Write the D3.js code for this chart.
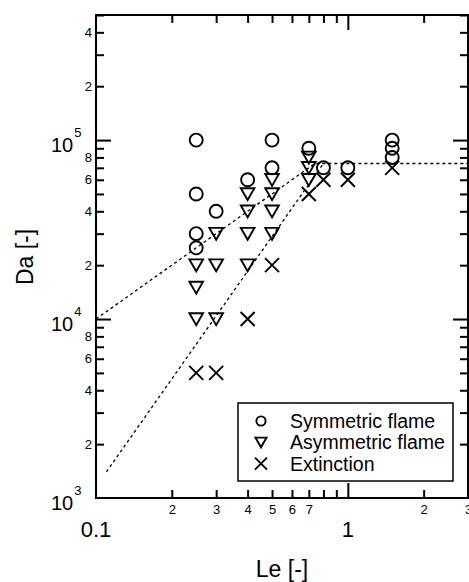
<!DOCTYPE html>
<html>
<head>
<meta charset="utf-8">
<script src="https://cdn.jsdelivr.net/npm/d3@7"></script>
<style>
body { margin: 0; background: #fff; }
text { font-family: "Liberation Sans", Arial, sans-serif; fill: #000; }
</style>
</head>
<body>
<div id="container"></div>
<script>
// Symmetric flame (circles)
var symLe = [0.25, 0.25, 0.25, 0.25, 0.3, 0.4, 0.5, 0.5, 0.7, 0.8, 1.0, 1.5, 1.5, 1.5];
var symDa = [1e5, 5e4, 3e4, 2.5e4, 4e4, 6e4, 1e5, 7e4, 9e4, 7e4, 7e4, 1e5, 9e4, 8e4];
// Asymmetric flame (triangles)
var asymLe = [0.25, 0.25, 0.25, 0.3, 0.3, 0.3, 0.4, 0.4, 0.4, 0.4, 0.5, 0.5, 0.5, 0.5, 0.7, 0.7, 0.7];
var asymDa = [2e4, 1.5e4, 1e4, 3e4, 2e4, 1e4, 5e4, 4e4, 3e4, 2e4, 6e4, 5e4, 4e4, 3e4, 8e4, 7e4, 6e4];
// Extinction (crosses)
var extLe = [0.25, 0.3, 0.4, 0.5, 0.7, 0.8, 1.0, 1.5];
var extDa = [5e3, 5e3, 1e4, 2e4, 5e4, 6e4, 6e4, 7e4];
// dashed boundary lines
var line1Le = [0.1, 0.74, 3];
var line1Da = [1e4, 7.4e4, 7.4e4];
var line2Le = [0.11, 0.8];
var line2Da = [1.4e3, 7.4e4];

var legendNames = ["Symmetric flame", "Asymmetric flame", "Extinction"];
var xTickLabels = [0.2, 0.3, 0.4, 0.5, 0.6, 0.7, 2, 3];
var xMajorLabels = [0.1, 1];
var yMajorExp = [3, 4, 5];
var yMinorLabels = [2, 4, 6, 8];

var W = 469, H = 582;
var pl = 96, pt = 15, pr = 468, pb = 498; // plot frame edges

var x = d3.scaleLog().domain([0.1, 3]).range([pl, pr]);
var y = d3.scaleLog().domain([1e3, 5e5]).range([pb, pt]);

var svg = d3.select("div#container").append("svg")
	.attr("width", W)
	.attr("height", H);

// tick values
var xMinor = [], yMinor = [];
[0.1, 1].forEach(function (d) {
	for (var k = 2; k <= 9; k++) { if (d * k <= 3.0001) xMinor.push(d * k); }
});
[1e3, 1e4, 1e5].forEach(function (d) {
	for (var k = 2; k <= 9; k++) { if (d * k <= 5e5) yMinor.push(d * k); }
});

function mant(v) { return Math.round(v / Math.pow(10, Math.floor(Math.log10(v) + 1e-9))); }

function styleAxis(g) {
	g.select(".domain").remove();
	g.attr("font-family", "Liberation Sans, Arial, sans-serif");
	g.selectAll("line").attr("stroke", "#000").attr("stroke-width", 2);
	g.selectAll("text").attr("fill", "#000");
}

// bottom minor ticks with small labels
svg.append("g").attr("transform", "translate(0," + pb + ")")
	.call(d3.axisBottom(x).tickValues(xMinor).tickSizeInner(-8).tickSizeOuter(0).tickPadding(7)
		.tickFormat(function (d) {
			return xTickLabels.some(function (t) { return Math.abs(t - d) < 1e-6; }) ? mant(d) : "";
		}))
	.call(styleAxis)
	.attr("font-size", 13);
svg.append("g").attr("transform", "translate(0," + pb + ")")
	.call(d3.axisBottom(x).tickValues([1]).tickSizeInner(-15).tickSizeOuter(0).tickFormat(""))
	.call(styleAxis);
// top ticks
svg.append("g").attr("transform", "translate(0," + pt + ")")
	.call(d3.axisTop(x).tickValues(xMinor).tickSizeInner(-8).tickSizeOuter(0).tickFormat(""))
	.call(styleAxis);
svg.append("g").attr("transform", "translate(0," + pt + ")")
	.call(d3.axisTop(x).tickValues([1]).tickSizeInner(-15).tickSizeOuter(0).tickFormat(""))
	.call(styleAxis);

// left ticks
svg.append("g").attr("transform", "translate(" + pl + ",0)")
	.call(d3.axisLeft(y).tickValues(yMinor).tickSizeInner(-8).tickSizeOuter(0).tickPadding(4)
		.tickFormat(function (d) { return yMinorLabels.indexOf(mant(d)) >= 0 ? mant(d) : ""; }))
	.call(styleAxis)
	.attr("font-size", 13);
svg.append("g").attr("transform", "translate(" + pl + ",0)")
	.call(d3.axisLeft(y).tickValues([1e4, 1e5]).tickSizeInner(-15).tickSizeOuter(0).tickFormat(""))
	.call(styleAxis);
// right ticks
svg.append("g").attr("transform", "translate(" + pr + ",0)")
	.call(d3.axisRight(y).tickValues(yMinor).tickSizeInner(-8).tickSizeOuter(0).tickFormat(""))
	.call(styleAxis);
svg.append("g").attr("transform", "translate(" + pr + ",0)")
	.call(d3.axisRight(y).tickValues([1e4, 1e5]).tickSizeInner(-15).tickSizeOuter(0).tickFormat(""))
	.call(styleAxis);

// major labels
svg.selectAll("text.xmaj").data(xMajorLabels).enter().append("text")
	.attr("class", "xmaj")
	.attr("x", function (d) { return x(d); })
	.attr("y", 537)
	.attr("text-anchor", "middle")
	.style("font-size", "22px")
	.text(function (d) { return d; });

var ymaj = svg.selectAll("text.ymaj").data(yMajorExp).enter().append("text")
	.attr("class", "ymaj")
	.attr("x", 51)
	.attr("y", function (d) { return y(Math.pow(10, d)) + 12; })
	.style("font-size", "20px");
ymaj.append("tspan").text("10");
ymaj.append("tspan").attr("dx", 1).attr("dy", -15).style("font-size", "13px").text(function (d) { return d; });

// frame
svg.append("rect")
	.attr("x", pl).attr("y", pt)
	.attr("width", pr - pl).attr("height", pb - pt)
	.attr("fill", "none").attr("stroke", "#000").attr("stroke-width", 2);

// axis titles
svg.append("text")
	.attr("x", 282).attr("y", 577)
	.attr("text-anchor", "middle")
	.style("font-size", "23px")
	.text("Le [-]");
svg.append("text")
	.attr("transform", "translate(33,257) rotate(-90)")
	.attr("text-anchor", "middle")
	.style("font-size", "23px")
	.text("Da [-]");

// dashed lines
var line = d3.line().x(function (d) { return x(d[0]); }).y(function (d) { return y(d[1]); });
[d3.zip(line1Le, line1Da), d3.zip(line2Le, line2Da)].forEach(function (pts) {
	svg.append("path").attr("d", line(pts))
		.attr("fill", "none").attr("stroke", "#000")
		.attr("stroke-width", 1.3).attr("stroke-dasharray", "3,3");
});

// markers
function tri(s) { return "M" + (-s) + "," + (-s * 0.85) + "L" + s + "," + (-s * 0.85) + "L0," + (s * 0.9) + "Z"; }
function cross(s) { return "M" + (-s) + "," + (-s) + "L" + s + "," + s + "M" + (-s) + "," + s + "L" + s + "," + (-s); }

svg.selectAll("circle.sym").data(d3.zip(symLe, symDa)).enter().append("circle")
	.attr("class", "sym")
	.attr("cx", function (d) { return x(d[0]); })
	.attr("cy", function (d) { return y(d[1]); })
	.attr("r", 6.5)
	.attr("fill", "none").attr("stroke", "#000").attr("stroke-width", 1.9);

svg.selectAll("path.asym").data(d3.zip(asymLe, asymDa)).enter().append("path")
	.attr("class", "asym")
	.attr("transform", function (d) { return "translate(" + x(d[0]) + "," + y(d[1]) + ")"; })
	.attr("d", tri(6.8))
	.attr("fill", "none").attr("stroke", "#000").attr("stroke-width", 1.9).attr("stroke-linejoin", "miter");

svg.selectAll("path.ext").data(d3.zip(extLe, extDa)).enter().append("path")
	.attr("class", "ext")
	.attr("transform", function (d) { return "translate(" + x(d[0]) + "," + y(d[1]) + ")"; })
	.attr("d", cross(7))
	.attr("fill", "none").attr("stroke", "#000").attr("stroke-width", 1.9);

// legend
var lg = svg.append("g").attr("transform", "translate(238,403)");
lg.append("rect").attr("width", 215).attr("height", 78)
	.attr("fill", "#fff").attr("stroke", "#000").attr("stroke-width", 1.5);
var rows = lg.selectAll("g.row").data(legendNames).enter().append("g")
	.attr("transform", function (d, i) { return "translate(23," + (18 + i * 21.3) + ")"; });
rows.append("text").attr("x", 29).attr("y", 7).style("font-size", "19.5px").text(function (d) { return d; });
rows.each(function (d, i) {
	var g = d3.select(this);
	if (i == 0) g.append("circle").attr("r", 4.6);
	else if (i == 1) g.append("path").attr("d", tri(5.5));
	else g.append("path").attr("d", cross(6));
	g.selectAll("circle,path").attr("fill", "none").attr("stroke", "#000").attr("stroke-width", 1.9);
});
</script>
</body>
</html>
